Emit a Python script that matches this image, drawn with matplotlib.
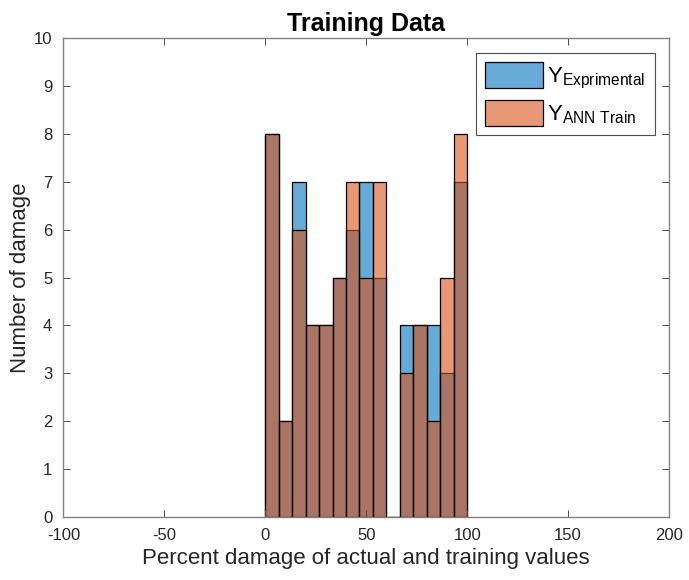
import matplotlib
matplotlib.use('Agg')
import matplotlib.pyplot as plt
import numpy as np

plt.rcParams['font.family'] = ['Liberation Sans', 'DejaVu Sans']
plt.rcParams['mathtext.default'] = 'regular'
plt.rcParams['axes.unicode_minus'] = False

# histogram bins (width 100/15) and counts per bin
bin_edges = np.linspace(0, 100, 16)
y_exp = [8, 2, 7, 4, 4, 5, 6, 7, 5, 0, 4, 4, 4, 3, 7]
y_ann = [8, 2, 6, 4, 4, 5, 7, 5, 7, 0, 3, 4, 2, 5, 8]

blue = (0, 0.447, 0.741)
orange = (0.85, 0.325, 0.098)
axis_grey = '#4d4d4d'

fig = plt.figure(figsize=(6.89, 5.8), dpi=100)
ax = fig.add_axes([0.092, 0.109, 0.879, 0.825])

widths = np.diff(bin_edges)
ax.bar(bin_edges[:-1], y_exp, width=widths, align='edge',
       color=(*blue, 0.6), edgecolor='black', linewidth=0.9,
       label='Y$_{Exprimental}$')
ax.bar(bin_edges[:-1], y_ann, width=widths, align='edge',
       color=(*orange, 0.6), edgecolor='black', linewidth=0.9,
       label='Y$_{ANN\\ Train}$')

ax.set_xlim(-100, 200)
ax.set_ylim(0, 10)
ax.set_xticks(np.arange(-100, 201, 50))
ax.set_yticks(np.arange(0, 11, 1))
ax.tick_params(direction='in', top=True, right=True, labelsize=12,
               colors=axis_grey, labelcolor='#262626', length=5, width=0.7,
               pad=8)
for s in ax.spines.values():
    s.set_color('#808080')
    s.set_linewidth(1.0)

ax.set_title('Training Data', fontsize=18, fontweight='bold', pad=5)
ax.set_xlabel('Percent damage of actual and training values', fontsize=16,
              color='#262626', labelpad=4)
ax.set_ylabel('Number of damage', fontsize=16, color='#262626', labelpad=2)

leg = ax.legend(loc='upper right', fontsize=16, fancybox=False,
                edgecolor='#4d4d4d', handlelength=2.6, handleheight=1.45,
                handletextpad=0.2, labelspacing=0.4, borderpad=0.4,
                borderaxespad=0.65, framealpha=1)
leg.get_frame().set_linewidth(0.8)

fig.savefig('out.png', dpi=100)
